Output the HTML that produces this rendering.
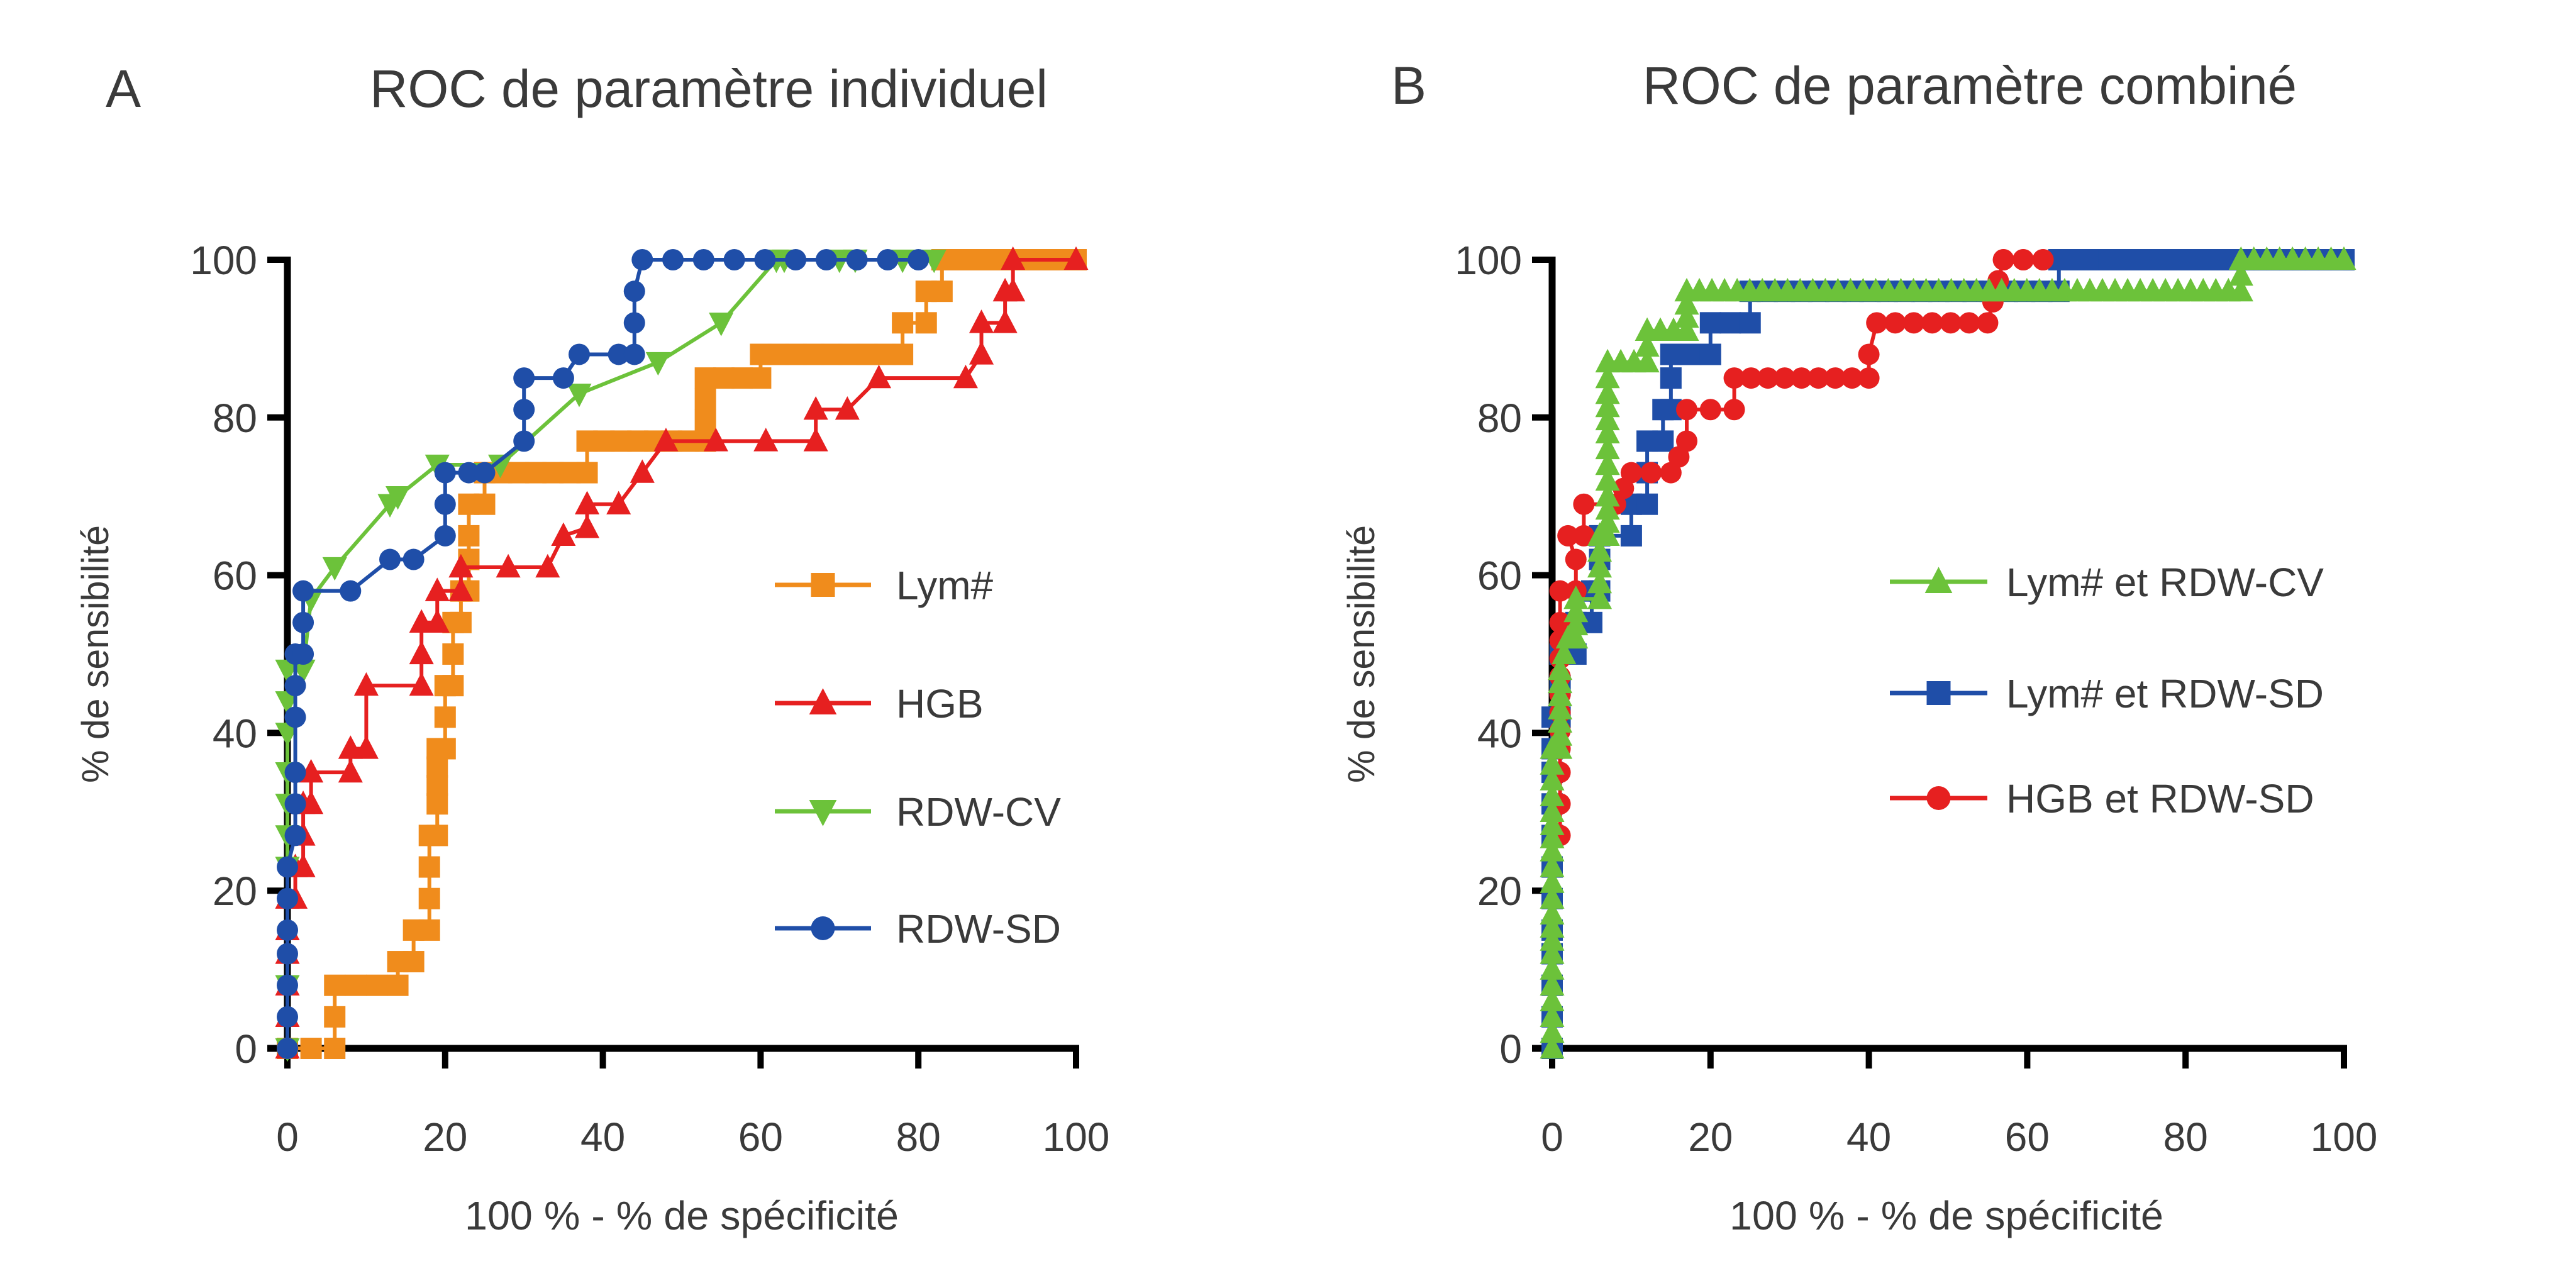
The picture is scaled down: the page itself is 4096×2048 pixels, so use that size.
<!DOCTYPE html>
<html><head><meta charset="utf-8"><style>
html,body{margin:0;padding:0;background:#fff}
svg{display:block}
text{font-family:"Liberation Sans",sans-serif;fill:#3a3a3a}
</style></head><body>
<svg id="s" width="4096" height="2048" viewBox="0 0 4096 2048" xmlns="http://www.w3.org/2000/svg">
<rect width="4096" height="2048" fill="#fff"/>
<text x="168" y="170" font-size="84">A</text>
<text x="588" y="170" font-size="84" textLength="1078" lengthAdjust="spacingAndGlyphs">ROC de paramètre individuel</text>
<text x="2212" y="165" font-size="84">B</text>
<text x="2612" y="165" font-size="84" textLength="1040" lengthAdjust="spacingAndGlyphs">ROC de paramètre combiné</text>
<g id="g"></g>
</svg>
<script>
var NS="http://www.w3.org/2000/svg",G=document.getElementById("g");
function el(t,a,txt){var e=document.createElementNS(NS,t);for(var k in a)e.setAttribute(k,a[k]);if(txt)e.textContent=txt;G.appendChild(e);return e;}
function axes(x0,x1,y0,y1,xlabX,ylabX){
 for(var i=0;i<=5;i++){var v=i*20;var y=y0+(y1-y0)*v/100;var x=x0+(x1-x0)*v/100;
  el("line",{x1:x0-32,y1:y,x2:x0,y2:y,stroke:"#000","stroke-width":10});
  el("text",{x:x0-48,y:y+23,"font-size":64,"text-anchor":"end"},String(v));
  el("line",{x1:x,y1:y0,x2:x,y2:y0+32,stroke:"#000","stroke-width":10});
  el("text",{x:x,y:1830,"font-size":64,"text-anchor":"middle"},String(v));}
 el("line",{x1:x0,y1:y1-5,x2:x0,y2:y0+5,stroke:"#000","stroke-width":11});
 el("line",{x1:x0-32,y1:y0,x2:x1+5,y2:y0,stroke:"#000","stroke-width":11});
 el("text",{x:xlabX,y:1955,"font-size":64,"text-anchor":"middle",textLength:690,lengthAdjust:"spacingAndGlyphs"},"100 % - % de spécificité");
 el("text",{x:0,y:0,"font-size":60,"text-anchor":"middle",textLength:410,lengthAdjust:"spacingAndGlyphs",transform:"translate("+ylabX+",1040) rotate(-90)"},"% de sensibilité");
}
function marker(type,x,y,c,s){
 s=s||17;
 if(type=="sq")el("rect",{x:x-s,y:y-s,width:2*s,height:2*s,fill:c});
 else if(type=="ci")el("circle",{cx:x,cy:y,r:s,fill:c});
 else if(type=="up")el("polygon",{points:(x-s*1.15)+","+(y+s*0.95)+" "+(x+s*1.15)+","+(y+s*0.95)+" "+x+","+(y-s*1.25),fill:c});
 else el("polygon",{points:(x-s*1.15)+","+(y-s*0.95)+" "+(x+s*1.15)+","+(y-s*0.95)+" "+x+","+(y+s*1.25),fill:c});
}
function series(pts,x0,x1,y0,y1,c,type,step){
 var P=pts.map(function(p){return [x0+(x1-x0)*p[0]/100,y0+(y1-y0)*p[1]/100];});
 el("polyline",{points:P.map(function(p){return p.join(",")}).join(" "),fill:"none",stroke:c,"stroke-width":6});
 for(var i=0;i<P.length;i++){marker(type,P[i][0],P[i][1],c);
  if(i<P.length-1&&step){var dx=P[i+1][0]-P[i][0],dy=P[i+1][1]-P[i][1],L=Math.sqrt(dx*dx+dy*dy),n=Math.floor(L/step);
   for(var j=1;j<n;j++)marker(type,P[i][0]+dx*j/n,P[i][1]+dy*j/n,c);}}
}
function legend(x1,x2,xt,y,c,type,label){
 el("line",{x1:x1,y1:y,x2:x2,y2:y,stroke:c,"stroke-width":7});
 marker(type,(x1+x2)/2,y,c,19);
 el("text",{x:xt,y:y+23,"font-size":64},label);
}
var A=[457,1711,1667,413];
axes(A[0],A[1],A[2],A[3],1084,172);
var O="#f08c1c",R="#e62020",Gr="#6cc23a",B="#1f4ea8";
series([[0,0],[6,0],[6,4],[6,8],[14,8],[14,11],[16,11],[16,15],[18,15],[18,19],[18,23],[18,27],[19,27],[19,31],[19,38],[20,38],[20,42],[20,46],[21,46],[21,50],[21,54],[22,54],[22,58],[23,58],[23,62],[23,65],[23,69],[25,69],[25,73],[38,73],[38,77],[53,77],[53,85],[60,85],[60,88],[78,88],[78,92],[81,92],[81,96],[83,96],[83,100],[100,100]],A[0],A[1],A[2],A[3],O,"sq",26);
series([[0,0],[0,4],[0,8],[0,12],[0,15],[0,19],[1,19],[1,23],[2,23],[2,27],[2,31],[3,31],[3,35],[8,35],[8,38],[10,38],[10,46],[17,46],[17,50],[17,54],[19,54],[19,58],[22,58],[22,61],[28,61],[33,61],[35,65],[38,66],[38,69],[42,69],[45,73],[48,77],[67,77],[67,81],[71,81],[75,85],[86,85],[88,88],[88,92],[91,92],[91,96],[92,96],[92,100],[100,100]],A[0],A[1],A[2],A[3],R,"up",70);
series([[0,0],[0,8],[0,23],[0,27],[0,31],[0,35],[0,40],[0,44],[0,48],[2,48],[3,57],[6,61],[13,69],[14,70],[19,74],[27,74],[37,83],[47,87],[55,92],[62,100],[63,100],[70,100],[72,100],[78,100],[82,100]],A[0],A[1],A[2],A[3],Gr,"dn",0);
series([[0,0],[0,4],[0,8],[0,12],[0,15],[0,19],[0,23],[1,27],[1,31],[1,35],[1,42],[1,46],[1,50],[2,50],[2,54],[2,58],[8,58],[13,62],[16,62],[20,65],[20,73],[23,73],[25,73],[30,77],[30,81],[30,85],[35,85],[37,88],[42,88],[44,88],[44,96],[45,100],[80,100]],A[0],A[1],A[2],A[3],B,"ci",45);
legend(1232,1385,1425,930,O,"sq","Lym#");
legend(1232,1385,1425,1118,R,"up","HGB");
legend(1232,1385,1425,1290,Gr,"dn","RDW-CV");
legend(1232,1385,1425,1476,B,"ci","RDW-SD");
var Bx=[2468,3727,1667,413];
axes(Bx[0],Bx[1],Bx[2],Bx[3],3095,2185);
series([[57,100],[62,100],[64,100],[100,100]],Bx[0],Bx[1],Bx[2],Bx[3],R,"ci",30);
series([[0,0],[0,4],[0,8],[0,12],[0,15],[0,19],[0,23],[0,27],[0,31],[0,35],[0,38],[0,42],[1,42],[1,46],[1,50],[3,50],[3,54],[5,54],[5,58],[6,58],[6,62],[6,65],[10,65],[10,69],[12,69],[12,73],[12,77],[14,77],[14,81],[15,81],[15,85],[15,88],[20,88],[20,92],[25,92],[25,96],[64,96],[64,100],[100,100]],Bx[0],Bx[1],Bx[2],Bx[3],B,"sq",26);
series([[1,27],[1,31],[1,35],[1,38],[1,54],[1,58],[3,58],[3,62],[2,65],[4,65],[4,69],[8,69],[10,73],[15,73],[17,77],[17,81],[23,81],[23,85],[40,85],[40,88],[41,92],[55,92],[57,100],[62,100]],Bx[0],Bx[1],Bx[2],Bx[3],R,"ci",26);
series([[0,0],[0,4],[0,8],[0,12],[0,17],[0,21],[0,25],[0,30],[0,34],[0,38],[1,38],[1,43],[1,48],[2,52],[3,52],[3,57],[6,57],[6,61],[6,65],[7,65],[7,70],[7,74],[7,78],[7,83],[7,87],[12,87],[12,91],[17,91],[17,96],[87,96],[87,100],[100,100]],Bx[0],Bx[1],Bx[2],Bx[3],Gr,"up",20);
legend(3005,3160,3190,925,Gr,"up","Lym# et RDW-CV");
legend(3005,3160,3190,1102,B,"sq","Lym# et RDW-SD");
legend(3005,3160,3190,1269,R,"ci","HGB et RDW-SD");
</script>
</body></html>
